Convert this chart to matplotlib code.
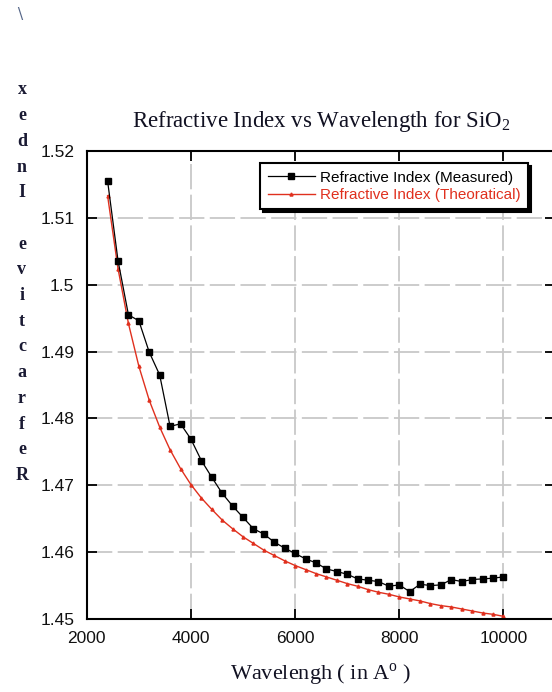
import numpy as np
import matplotlib.pyplot as plt

# wavelength in Angstrom
wavelength = [2400, 2600, 2800, 3000, 3200, 3400, 3600, 3800, 4000, 4200,
              4400, 4600, 4800, 5000, 5200, 5400, 5600, 5800, 6000, 6200,
              6400, 6600, 6800, 7000, 7200, 7400, 7600, 7800, 8000, 8200,
              8400, 8600, 8800, 9000, 9200, 9400, 9600, 9800, 10000]
n_measured = [1.5155, 1.5036, 1.4955, 1.4946, 1.4899, 1.4865, 1.4788, 1.4792, 1.4769, 1.4737,
              1.4712, 1.4688, 1.4669, 1.4652, 1.4635, 1.4627, 1.4615, 1.4606, 1.4598, 1.4590,
              1.4584, 1.4575, 1.4571, 1.4567, 1.4560, 1.4558, 1.4556, 1.4549, 1.4551, 1.4541,
              1.4552, 1.4550, 1.4551, 1.4559, 1.4556, 1.4559, 1.4560, 1.4561, 1.4563]
n_theory = [1.5133, 1.5024, 1.4942, 1.4878, 1.4827, 1.4787, 1.4753, 1.4725, 1.4701, 1.4681,
            1.4664, 1.4648, 1.4635, 1.4623, 1.4613, 1.4603, 1.4595, 1.4587, 1.4580, 1.4574,
            1.4568, 1.4563, 1.4558, 1.4553, 1.4549, 1.4544, 1.4540, 1.4537, 1.4533, 1.4530,
            1.4527, 1.4523, 1.4520, 1.4518, 1.4515, 1.4512, 1.4509, 1.4507, 1.4504]
xticks = [2000, 4000, 6000, 8000, 10000]
yticks = [1.45, 1.46, 1.47, 1.48, 1.49, 1.5, 1.51, 1.52]

plt.rcParams['font.family'] = 'Liberation Sans'
plt.rcParams['mathtext.fontset'] = 'custom'
plt.rcParams['mathtext.rm'] = 'Liberation Serif'

fig = plt.figure(figsize=(5.52, 6.92), dpi=100)
ax = fig.add_axes([0.1572, 0.1055, 0.8491, 0.6763])

red = "#e0301e"
ax.plot(wavelength, n_measured, "k-", marker="s", markersize=5, linewidth=0.9,
        label="Refractive Index (Measured)", zorder=3)
ax.plot(wavelength, n_theory, color=red, marker="^", markersize=2.2, linewidth=1.0,
        label="Refractive Index (Theoratical)", zorder=2)

ax.set_xlim(2000, 11000)
ax.set_ylim(1.45, 1.52)
ax.set_xticks(xticks)
ax.set_yticks(yticks)
ax.set_yticklabels(["%g" % v for v in yticks])
ax.grid(True, color="#c8c8c8", linewidth=1.3, linestyle=(0, (14, 3)))
ax.set_axisbelow(True)
ax.tick_params(direction="in", top=True, right=True, length=7, width=1.3,
               labelsize=12.5, labelcolor="#111111", pad=9)
for s in ax.spines.values():
    s.set_linewidth(1.5)

leg = ax.legend(loc="upper right", bbox_to_anchor=(0.941, 0.974), borderaxespad=0,
                fontsize=11, numpoints=1, handlelength=3.1, handletextpad=0.3,
                labelspacing=0.2, borderpad=0.5, fancybox=False,
                shadow={"color": "black", "alpha": 1.0})
leg.get_frame().set_edgecolor("black")
leg.get_frame().set_linewidth(1.5)
leg.get_texts()[1].set_color(red)

ax.set_title("Refractive Index vs Wavelength for SiO$_\\mathregular{2}$",
             fontsize=16.5, family="Liberation Serif", color="#111122", pad=17)
ax.set_xlabel("Wavelengh ( in A$^\\mathregular{o}$ )", fontsize=16,
              family="Liberation Serif", color="#111122", labelpad=11)

# vertical stacked y label, letters read bottom to top
for i, ch in enumerate(reversed("Refractive Index")):
    fig.text(22 / 552, 1 - (90 + i * 25.7) / 692, ch, ha="center", va="center",
             family="Liberation Serif", weight="bold", fontsize=13, color="#1a1a33")

fig.text(20 / 552, 1 - 16 / 692, "\\", ha="center", va="center",
         family="Liberation Serif", weight="bold", fontsize=13, color="#556688")

fig.savefig("out.png", dpi=100)
